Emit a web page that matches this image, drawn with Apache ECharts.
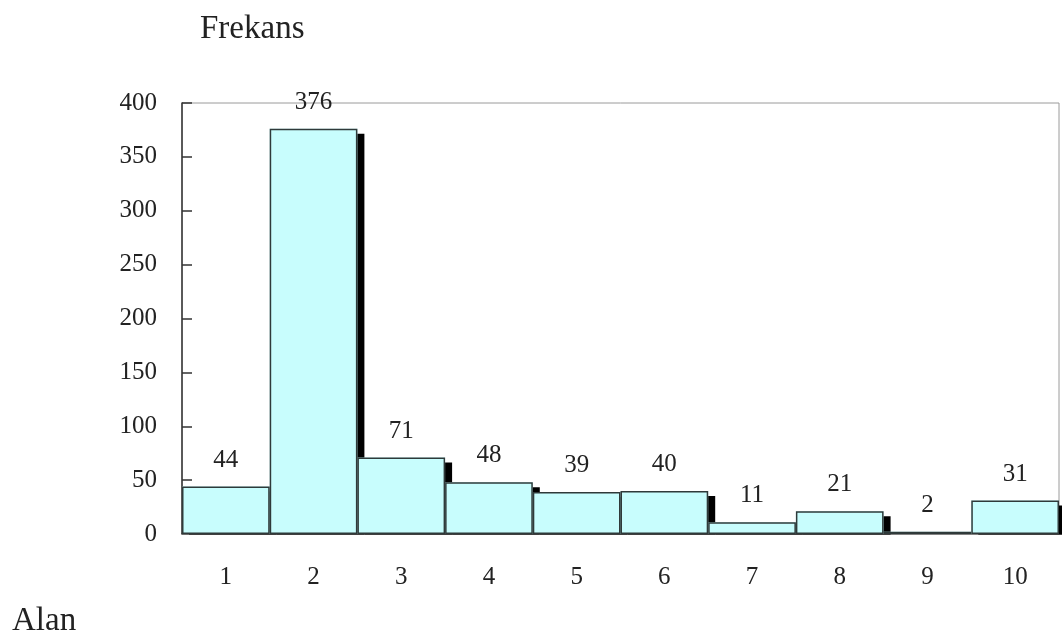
<!DOCTYPE html>
<html>
<head>
<meta charset="utf-8">
<script src="https://cdn.jsdelivr.net/npm/echarts@6/dist/echarts.min.js"></script>
<style>
  html, body { margin: 0; padding: 0; background: #fff; }
  #chart { width: 1062px; height: 639px; }
</style>
</head>
<body>
<div id="chart"></div>
<script>
// Frequency per area
const categories = ['1', '2', '3', '4', '5', '6', '7', '8', '9', '10'];
const frequencies = [44, 376, 71, 48, 39, 40, 11, 21, 2, 31];
const yTicks = { min: 0, max: 400, interval: 50 };

const serif = '"Liberation Serif", "Times New Roman", serif';
const textColor = '#222';
const barFill = '#c8fdfd';

const chart = echarts.init(document.getElementById('chart'), null, { renderer: 'canvas' });

chart.setOption({
  animation: false,
  backgroundColor: '#fff',
  graphic: [
    { type: 'text', left: 200, top: 13, style: { text: 'Frekans', font: '33px ' + serif, fill: textColor } },
    { type: 'text', left: 12, top: 605, style: { text: 'Alan', font: '33px ' + serif, fill: textColor } },
    // keeps the drop shadows from spilling under the baseline
    { type: 'rect', z: 100, shape: { x: 175, y: 534.8, width: 887, height: 8 }, style: { fill: '#fff' } }
  ],
  grid: {
    left: 182, right: 3, top: 103, bottom: 105,
    show: true, borderColor: '#9a9a9a', borderWidth: 1, backgroundColor: 'transparent'
  },
  xAxis: {
    type: 'category',
    data: categories,
    boundaryGap: true,
    axisLine: { lineStyle: { color: '#333', width: 1.5 } },
    axisTick: { show: false },
    axisLabel: { margin: 31, fontFamily: serif, fontSize: 25, color: textColor }
  },
  yAxis: {
    type: 'value',
    min: yTicks.min, max: yTicks.max, interval: yTicks.interval,
    axisLine: { show: true, lineStyle: { color: '#333', width: 1.5 } },
    axisTick: { show: true, inside: true, length: 10, lineStyle: { color: '#333', width: 1.5 } },
    splitLine: { show: false },
    axisLabel: { margin: 25, fontFamily: serif, fontSize: 25, color: textColor }
  },
  series: [
    {
      // filled bars casting the hard black drop shadow
      type: 'bar',
      data: frequencies,
      barWidth: '100%',
      barCategoryGap: 0,
      barGap: '-100%',
      z: 2,
      silent: true,
      itemStyle: {
        color: barFill,
        borderWidth: 0,
        shadowColor: '#000',
        shadowBlur: 0,
        shadowOffsetX: 7,
        shadowOffsetY: 5
      }
    },
    {
      // outlined bars on top, with value labels
      type: 'bar',
      data: frequencies,
      barWidth: '100%',
      barCategoryGap: 0,
      barGap: '-100%',
      z: 3,
      itemStyle: {
        color: barFill,
        borderColor: '#2f3a3a',
        borderWidth: 1.5
      },
      label: {
        show: true,
        position: 'top',
        distance: 14,
        fontFamily: serif,
        fontSize: 25,
        color: textColor
      }
    }
  ]
});
</script>
</body>
</html>
